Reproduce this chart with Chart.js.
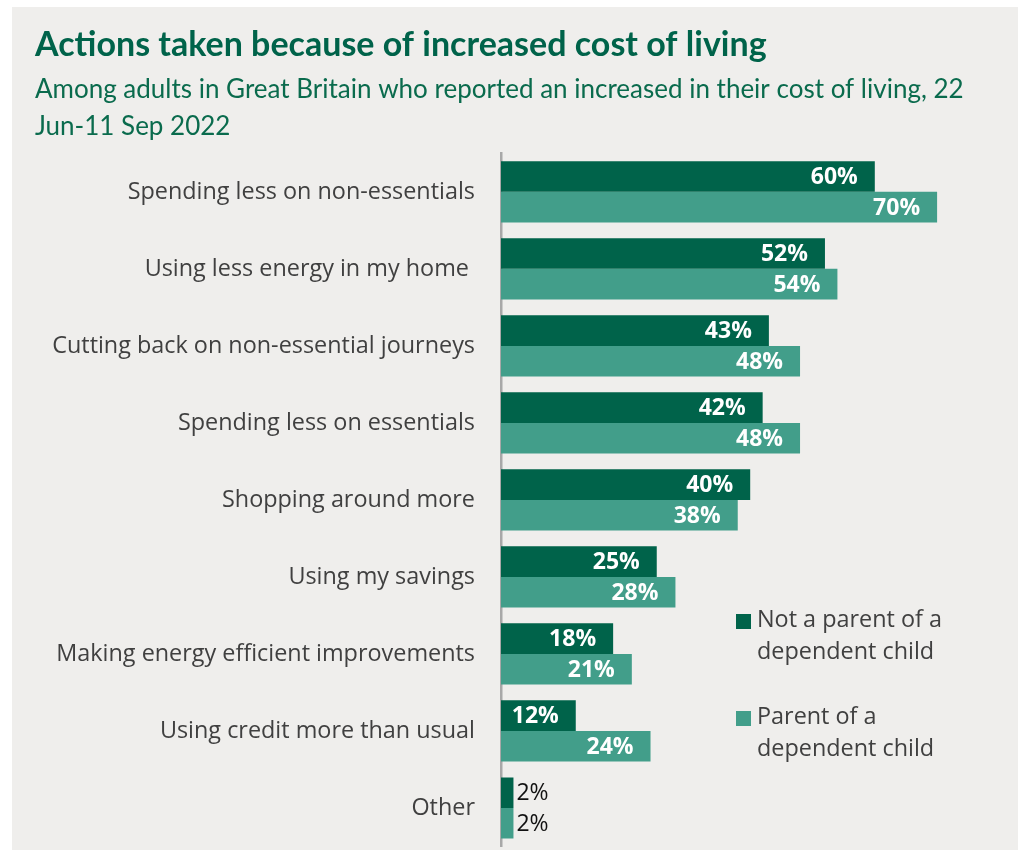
<!DOCTYPE html>
<html>
<head>
<meta charset="utf-8">
<script src="https://cdn.jsdelivr.net/npm/chart.js@4.4.1/dist/chart.umd.min.js"></script>
<style>
  html, body { margin: 0; padding: 0; background: #fff; }
  #panel {
    position: absolute; left: 12px; top: 7px;
    width: 1006px; height: 843px;
    background: #efeeec;
  }
  canvas { display: block; }
</style>
</head>
<body>
<div id="panel"><canvas id="grafico" width="1006" height="843"></canvas></div>
<script>
const categorias = [
  "Spending less on non-essentials",
  "Using less energy in my home ",
  "Cutting back on non-essential journeys",
  "Spending less on essentials",
  "Shopping around more",
  "Using my savings",
  "Making energy efficient improvements",
  "Using credit more than usual",
  "Other",
];
const noPadre = [60, 52, 43, 42, 40, 25, 18, 12, 2];
const padre = [70, 54, 48, 48, 38, 28, 21, 24, 2];
const series = [
  ["Not a parent of a", "dependent child"],
  ["Parent of a", "dependent child"],
];

const VERDE = "#00634a";
const VERDE_CLARO = "#429e8a";
const TEXTO = "#404040";

// etiquetas de valor y leyenda dibujadas a mano
const etiquetas = {
  id: "etiquetas",
  afterDatasetsDraw(chart) {
    const ctx = chart.ctx;
    ctx.save();
    ctx.textBaseline = "middle";
    chart.data.datasets.forEach((ds, i) => {
      chart.getDatasetMeta(i).data.forEach((bar, j) => {
        const v = ds.data[j];
        if (v >= 5) {
          ctx.font = "bold 23px 'Open Sans'";
          ctx.fillStyle = "#fff";
          ctx.textAlign = "right";
          ctx.fillText(v + "%", bar.x - 17, bar.y + 1);
        } else {
          ctx.font = "23px 'Open Sans'";
          ctx.fillStyle = "#111";
          ctx.textAlign = "left";
          ctx.fillText(v + "%", bar.x + 3, bar.y + 1);
        }
      });
    });
    // leyenda
    const colores = [VERDE, VERDE_CLARO];
    const tops = [607, 704];
    ctx.font = "23.4px 'Open Sans'";
    ctx.textAlign = "left";
    series.forEach((lineas, i) => {
      ctx.fillStyle = colores[i];
      ctx.fillRect(724, tops[i], 15, 15);
      ctx.fillStyle = TEXTO;
      lineas.forEach((l, k) => ctx.fillText(l, 745, tops[i] + 6 + k * 32));
    });
    ctx.restore();
  },
};

new Chart(document.getElementById("grafico"), {
  type: "bar",
  data: {
    labels: categorias,
    datasets: [
      {
        label: series[0].join(" "),
        data: noPadre,
        backgroundColor: VERDE,
        categoryPercentage: 0.795,
        barPercentage: 1.0,
      },
      {
        label: series[1].join(" "),
        data: padre,
        backgroundColor: VERDE_CLARO,
        categoryPercentage: 0.795,
        barPercentage: 1.0,
      },
    ],
  },
  options: {
    indexAxis: "y",
    responsive: false,
    animation: false,
    devicePixelRatio: 1,
    layout: { padding: { left: 23, right: 18.6, top: 0, bottom: 3.5 } },
    plugins: {
      legend: { display: false },
      tooltip: { enabled: false },
      title: {
        display: true,
        align: "start",
        text: "Actions taken because of increased cost of living",
        color: VERDE,
        font: { family: "Lato", size: 34, weight: "bold", lineHeight: 1.0 },
        padding: { top: 21, bottom: 6.5 },
      },
      subtitle: {
        display: true,
        align: "start",
        text: [
          "Among adults in Great Britain who reported an increased in their cost of living, 22",
          "Jun-11 Sep 2022",
        ],
        color: "#0a6b4d",
        font: { family: "Lato", size: 26, lineHeight: 1.42 },
        padding: { top: 3, bottom: 8 },
      },
    },
    scales: {
      x: {
        display: false,
        min: 0,
        max: 80,
      },
      y: {
        afterFit(scale) {
          scale.width = 466;
          scale.paddingTop = 0;
          scale.paddingBottom = 0;
        },
        grid: { display: false, drawTicks: false },
        border: { display: true, color: "#a8a8a8", width: 2.5 },
        ticks: {
          padding: 26,
          color: TEXTO,
          font: { family: "'Open Sans'", size: 23.4 },
        },
      },
    },
  },
  plugins: [etiquetas],
});
</script>
</body>
</html>
